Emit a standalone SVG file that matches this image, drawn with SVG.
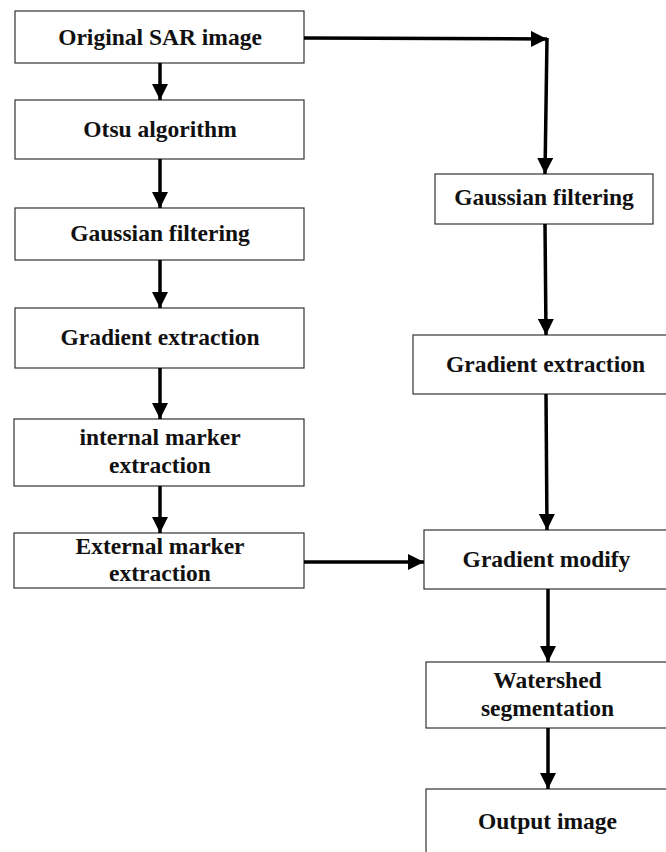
<svg xmlns="http://www.w3.org/2000/svg" width="666" height="852" viewBox="0 0 666 852">
<defs>
<style>
.box{fill:#fff;stroke:#333;stroke-width:1.2}
.lbl{font-family:"Liberation Serif","Times New Roman",serif;font-weight:bold;font-size:23.5px;fill:#111;text-anchor:middle}
.con{fill:none;stroke:#000;stroke-width:3.5}
</style>
<marker id="ah" markerUnits="userSpaceOnUse" markerWidth="16" markerHeight="16" refX="16" refY="8" orient="auto" viewBox="0 0 16 16">
<path d="M0,0 L16,8 L0,16 z" fill="#000"/>
</marker>
</defs>
<rect width="666" height="852" fill="#fff"/>
<g id="n-original"><rect class="box" x="15" y="11" width="289" height="52"/><text class="lbl" x="160" y="45">Original SAR image</text></g>
<g id="n-otsu"><rect class="box" x="15" y="100" width="289" height="59"/><text class="lbl" x="160" y="137">Otsu algorithm</text></g>
<g id="n-gauss-l"><rect class="box" x="15" y="208" width="289" height="52"/><text class="lbl" x="160" y="241">Gaussian filtering</text></g>
<g id="n-grad-l"><rect class="box" x="15" y="308" width="289" height="60"/><text class="lbl" x="160" y="345">Gradient extraction</text></g>
<g id="n-internal"><rect class="box" x="14" y="419" width="290" height="67"/><text class="lbl" x="160" y="445">internal marker</text><text class="lbl" x="160" y="473">extraction</text></g>
<g id="n-external"><rect class="box" x="14" y="533" width="290" height="55"/><text class="lbl" x="160" y="554">External marker</text><text class="lbl" x="160" y="581">extraction</text></g>
<g id="n-gauss-r"><rect class="box" x="435" y="174" width="218" height="50"/><text class="lbl" x="544" y="205">Gaussian filtering</text></g>
<g id="n-grad-r"><rect class="box" x="413" y="335" width="270" height="59"/><text class="lbl" x="545.5" y="372">Gradient extraction</text></g>
<g id="n-modify"><rect class="box" x="424" y="530" width="260" height="59"/><text class="lbl" x="546.5" y="567">Gradient modify</text></g>
<g id="n-watershed"><rect class="box" x="426" y="662" width="260" height="66"/><text class="lbl" x="547.5" y="688">Watershed</text><text class="lbl" x="547.5" y="716">segmentation</text></g>
<g id="n-output"><rect class="box" x="426" y="789" width="260" height="80"/><text class="lbl" x="547.5" y="829">Output image</text></g>
<g id="connectors">
<path class="con" d="M160,63 L160,100" marker-end="url(#ah)"/>
<path class="con" d="M160,159 L160,208" marker-end="url(#ah)"/>
<path class="con" d="M160,260 L160,308" marker-end="url(#ah)"/>
<path class="con" d="M160,368 L160,419" marker-end="url(#ah)"/>
<path class="con" d="M160,486 L160,533" marker-end="url(#ah)"/>
<path class="con" d="M304,38 L547,39" marker-end="url(#ah)"/>
<path class="con" d="M547,38 L545,174" marker-end="url(#ah)"/>
<path class="con" d="M545,224 L546,335" marker-end="url(#ah)"/>
<path class="con" d="M546,394 L547,530" marker-end="url(#ah)"/>
<path class="con" d="M304,562 L424,562" marker-end="url(#ah)"/>
<path class="con" d="M548,589 L548,662" marker-end="url(#ah)"/>
<path class="con" d="M548,728 L548,789" marker-end="url(#ah)"/>
</g>
</svg>
